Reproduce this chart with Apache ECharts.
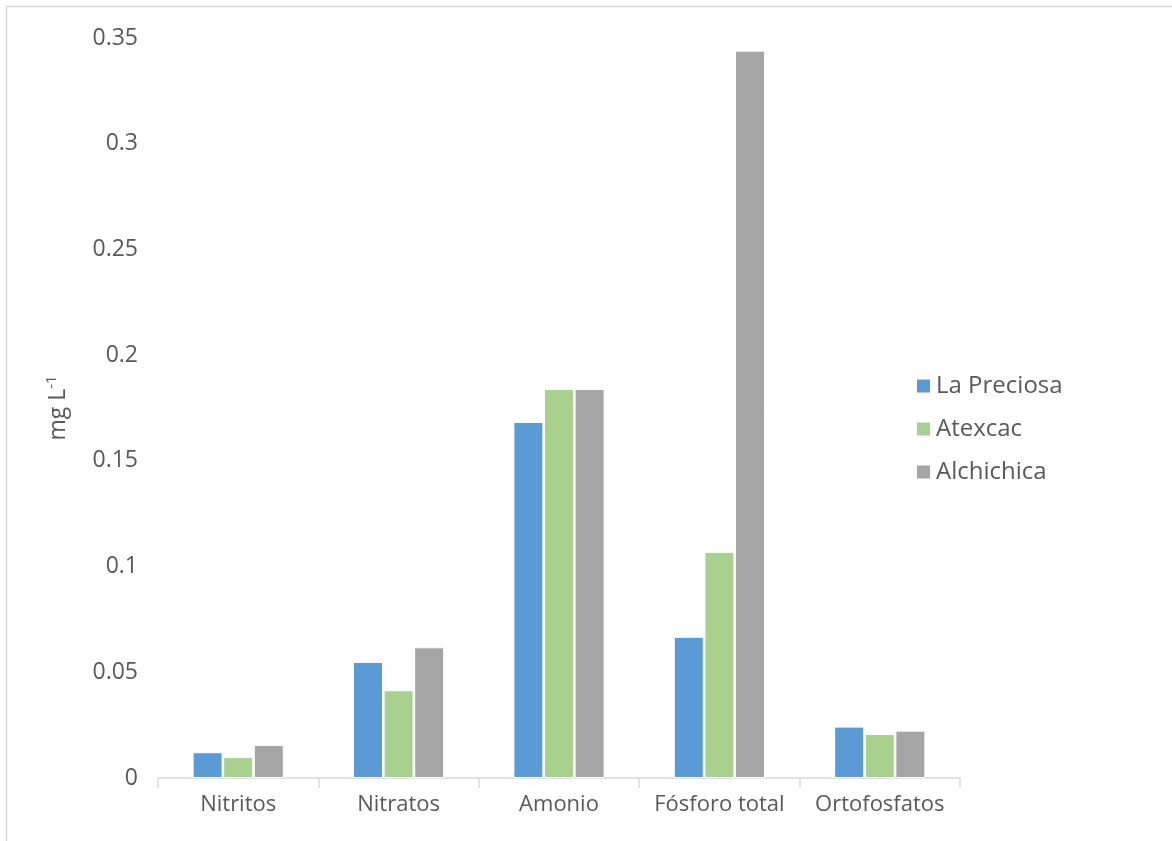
<!DOCTYPE html>
<html>
<head>
<meta charset="utf-8">
<script src="https://cdn.jsdelivr.net/npm/echarts@6/dist/echarts.min.js"></script>
<style>
  html, body { margin: 0; padding: 0; background: #fff; }
  #chart { width: 1172px; height: 841px; }
</style>
</head>
<body>
<div id="chart"></div>
<script>
// categorías y valores (mg L-1)
var categories = ['Nitritos', 'Nitratos', 'Amonio', 'Fósforo total', 'Ortofosfatos']
var laPreciosa = [0.0122, 0.0549, 0.1684, 0.0668, 0.0243]
var atexcac = [0.0099, 0.0415, 0.184, 0.107, 0.0208]
var alchichica = [0.0156, 0.0618, 0.184, 0.344, 0.0224]
var yTicks = [0, 0.05, 0.1, 0.15, 0.2, 0.25, 0.3, 0.35]

var chart = echarts.init(document.getElementById('chart'))
var font = 'Open Sans'
var textColor = '#595959'

function bar(name, data, color) {
  return {
    name: name,
    type: 'bar',
    data: data,
    barWidth: 30,
    barGap: '2%',
    itemStyle: {
      color: color,
      borderColor: '#fff',
      borderWidth: 1
    }
  }
}

var option = {
  animation: false,
  backgroundColor: '#fff',
  graphic: [{
    type: 'rect',
    shape: { x: 6.5, y: 6.5, width: 1180, height: 850 },
    style: { fill: 'none', stroke: '#d9d9d9', lineWidth: 1.5 },
    silent: true
  }],
  grid: {
    left: 158,
    right: 212,
    top: 38,
    bottom: 63
  },
  legend: {
    orient: 'vertical',
    left: 910,
    top: 369,
    itemWidth: 15,
    itemHeight: 15,
    itemGap: 19,
    icon: 'rect',
    textStyle: { fontFamily: font, fontSize: 24, color: textColor },
    data: ['La Preciosa', 'Atexcac', 'Alchichica']
  },
  xAxis: {
    type: 'category',
    data: categories,
    axisLine: { lineStyle: { color: '#d9d9d9', width: 1.5 } },
    axisTick: { show: true, length: 10, lineStyle: { color: '#d9d9d9', width: 1.5 } },
    axisLabel: { interval: 0, hideOverlap: false, fontFamily: font, fontSize: 22, color: textColor, margin: 16 }
  },
  yAxis: {
    type: 'value',
    min: 0,
    max: 0.35,
    interval: 0.05,
    name: '{a|mg L}{s|-1}',
    nameLocation: 'middle',
    nameRotate: 90,
    nameGap: 86,
    nameTextStyle: {
      rich: {
        a: { fontFamily: font, fontSize: 23, color: textColor },
        s: { fontFamily: font, fontSize: 15, color: textColor, padding: [0, 0, 13, 0] }
      }
    },
    axisLine: { show: false },
    axisTick: { show: false },
    splitLine: { show: false },
    axisLabel: {
      fontFamily: font,
      fontSize: 23,
      color: textColor,
      margin: 20,
      formatter: function (v) {
        var t = yTicks.find(function (x) { return Math.abs(x - v) < 1e-9 })
        return t === undefined ? '' : String(t)
      }
    }
  },
  series: [
    bar('La Preciosa', laPreciosa, '#5b9bd5'),
    bar('Atexcac', atexcac, '#a9d18e'),
    bar('Alchichica', alchichica, '#a5a5a5')
  ]
}

chart.setOption(option)
</script>
</body>
</html>
